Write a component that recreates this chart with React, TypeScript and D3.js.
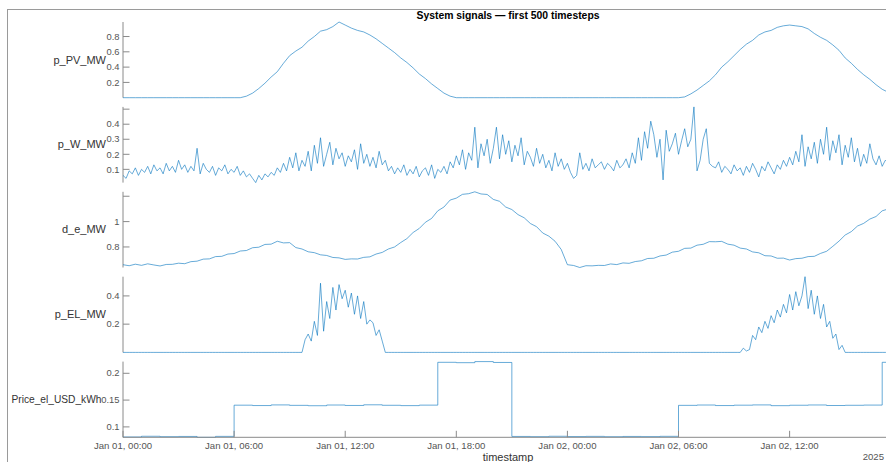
import React, { useRef, useEffect } from "react";
import * as d3 from "d3";

// time axis: 500 steps of 5 min from Jan 01 2025
const startTime = new Date(2025, 0, 1, 0, 0);
const nSteps = 500;
const stepMinutes = 5;

// p_PV_MW, one value every 20 min
const pvMW = [
  0, 0, 0, 0, 0, 0, 0, 0, 0, 0, 0, 0, 0, 0, 0, 0, 0, 0, 0,
  0, 0.02, 0.06, 0.12, 0.19, 0.27, 0.34, 0.45, 0.55, 0.61, 0.66, 0.74, 0.8, 0.87, 0.89, 0.93, 0.99,
  0.95, 0.91, 0.88, 0.86, 0.82, 0.77, 0.71, 0.65, 0.59, 0.52, 0.46, 0.39, 0.31, 0.25, 0.18, 0.12, 0.06, 0.02,
  0, 0, 0, 0, 0, 0, 0, 0, 0, 0, 0, 0, 0, 0, 0, 0, 0, 0, 0,
  0, 0, 0, 0, 0, 0, 0, 0, 0, 0, 0, 0, 0, 0, 0, 0, 0, 0,
  0.01, 0.05, 0.1, 0.16, 0.22, 0.3, 0.4, 0.47, 0.55, 0.63, 0.7, 0.75, 0.82, 0.86, 0.88, 0.92, 0.94,
  0.95, 0.94, 0.93, 0.9, 0.84, 0.79, 0.75, 0.69, 0.62, 0.52, 0.45, 0.37, 0.3, 0.24, 0.17, 0.11, 0.07,
];

// p_W_MW, one value every 10 min (rows = hours)
const windMW = [
  0.06, 0.04, 0.09, 0.07, 0.11, 0.06,
  0.10, 0.08, 0.12, 0.07, 0.13, 0.09,
  0.11, 0.07, 0.14, 0.09, 0.12, 0.08,
  0.16, 0.10, 0.13, 0.08, 0.12, 0.09,
  0.24, 0.07, 0.14, 0.10, 0.08, 0.12,
  0.06, 0.11, 0.09, 0.13, 0.07, 0.10,
  0.08, 0.12, 0.06, 0.09, 0.05, 0.07,
  0.04, 0.012, 0.06, 0.03, 0.07, 0.05,
  0.08, 0.06, 0.11, 0.08, 0.14, 0.09,
  0.18, 0.11, 0.21, 0.09, 0.16, 0.12,
  0.22, 0.09, 0.26, 0.14, 0.31, 0.12,
  0.20, 0.28, 0.13, 0.24, 0.17, 0.21,
  0.12, 0.19, 0.15, 0.23, 0.10, 0.27,
  0.14, 0.20, 0.12, 0.18, 0.11, 0.22,
  0.13, 0.16, 0.09, 0.12, 0.07, 0.11,
  0.08, 0.13, 0.06, 0.10, 0.07, 0.12,
  0.05, 0.09, 0.11, 0.06, 0.13, 0.04,
  0.10, 0.08, 0.12, 0.07, 0.15, 0.11,
  0.19, 0.13, 0.23, 0.10, 0.21, 0.16,
  0.38, 0.11, 0.27, 0.19, 0.30, 0.14,
  0.24, 0.38, 0.17, 0.33, 0.20, 0.29,
  0.15, 0.26, 0.19, 0.31, 0.13, 0.22,
  0.18, 0.12, 0.24, 0.14, 0.20, 0.11,
  0.16, 0.09, 0.21, 0.12, 0.17, 0.10,
  0.14, 0.08, 0.04, 0.06, 0.21, 0.10,
  0.14, 0.09, 0.17, 0.11, 0.13, 0.15,
  0.10, 0.14, 0.12, 0.09, 0.16, 0.11,
  0.13, 0.17, 0.11, 0.21, 0.14, 0.31,
  0.16, 0.35, 0.24, 0.42, 0.33, 0.18,
  0.30, 0.03, 0.36, 0.22, 0.27, 0.34,
  0.20, 0.29, 0.37, 0.25, 0.30, 0.515,
  0.09, 0.16, 0.30, 0.37, 0.14, 0.12,
  0.11, 0.15, 0.08, 0.12, 0.10, 0.07,
  0.13, 0.09, 0.11, 0.06, 0.12, 0.08,
  0.14, 0.10, 0.05, 0.12, 0.09, 0.15,
  0.11, 0.07, 0.13, 0.10, 0.16, 0.12,
  0.18, 0.13, 0.22, 0.15, 0.33, 0.12,
  0.25, 0.17, 0.28, 0.14, 0.30, 0.20,
  0.38, 0.16, 0.29, 0.21, 0.33, 0.13,
  0.26, 0.18, 0.31, 0.15, 0.24, 0.12,
  0.20, 0.14, 0.27, 0.17, 0.13, 0.19,
  0.12, 0.16, 0.14, 0.18,
];

// d_e_MW, one value every 20 min
const demandMW = [
  0.66, 0.652, 0.664, 0.655, 0.667, 0.658, 0.65, 0.662, 0.663, 0.672, 0.668, 0.684, 0.688, 0.704,
  0.706, 0.724, 0.726, 0.744, 0.748, 0.768, 0.772, 0.794, 0.798, 0.82, 0.822, 0.845, 0.832, 0.834,
  0.795, 0.784, 0.762, 0.755, 0.738, 0.733, 0.717, 0.714, 0.702, 0.706, 0.705, 0.718, 0.722, 0.744,
  0.757, 0.784, 0.8, 0.835, 0.866, 0.914, 0.946, 0.995, 1.025, 1.085, 1.115, 1.17, 1.185, 1.215,
  1.22, 1.235, 1.218, 1.214, 1.175, 1.16, 1.115, 1.095, 1.055, 1.03, 0.985, 0.96, 0.91, 0.885,
  0.845, 0.78,
  0.66, 0.654, 0.638, 0.652, 0.651, 0.655, 0.654, 0.666, 0.661, 0.674, 0.671, 0.685, 0.691, 0.709,
  0.711, 0.729, 0.736, 0.759, 0.766, 0.789, 0.791, 0.814, 0.821, 0.842, 0.841, 0.844, 0.822, 0.814,
  0.791, 0.784, 0.761, 0.754, 0.731, 0.729, 0.711, 0.712, 0.697, 0.708, 0.711, 0.724, 0.726, 0.749,
  0.766, 0.805, 0.846, 0.894, 0.921, 0.965, 0.986, 1.02, 1.04, 1.085, 1.10,
];

// p_EL_MW, one value every 10 min
const electrolyserMW = [
  0, 0, 0, 0, 0, 0, 0, 0, 0, 0, 0, 0, 0, 0, 0, 0, 0, 0, 0, 0,
  0, 0, 0, 0, 0, 0, 0, 0, 0, 0, 0, 0, 0, 0, 0, 0, 0, 0, 0, 0,
  0, 0, 0, 0, 0, 0, 0, 0, 0, 0, 0, 0, 0, 0, 0, 0, 0, 0,
  0, 0.09, 0.13, 0.08, 0.22, 0.12, 0.49, 0.15, 0.36, 0.24, 0.46, 0.30, 0.48, 0.38,
  0.44, 0.32, 0.42, 0.27, 0.40, 0.24, 0.36, 0.20, 0.23, 0.21, 0.12, 0.16, 0.08, 0,
  0, 0, 0, 0, 0, 0, 0, 0, 0, 0, 0, 0, 0, 0, 0, 0, 0, 0, 0, 0,
  0, 0, 0, 0, 0, 0, 0, 0, 0, 0, 0, 0, 0, 0, 0, 0, 0, 0, 0, 0,
  0, 0, 0, 0, 0, 0, 0, 0, 0, 0, 0, 0, 0, 0, 0, 0, 0, 0, 0, 0,
  0, 0, 0, 0, 0, 0, 0, 0, 0, 0, 0, 0, 0, 0, 0, 0, 0, 0, 0, 0,
  0, 0, 0, 0, 0, 0, 0, 0, 0, 0, 0, 0, 0, 0, 0, 0, 0, 0, 0, 0,
  0, 0, 0, 0, 0, 0, 0, 0, 0, 0, 0, 0, 0, 0,
  0, 0.03, 0.01, 0.02, 0.12, 0.09, 0.18, 0.14, 0.22, 0.17, 0.26, 0.21, 0.30, 0.25, 0.34, 0.28,
  0.41, 0.30, 0.43, 0.33, 0.40, 0.536, 0.31, 0.44, 0.27, 0.40, 0.24, 0.34, 0.18, 0.22, 0.10,
  0.13, 0.02, 0.05, 0,
  0, 0, 0, 0, 0, 0, 0, 0, 0, 0, 0, 0, 0, 0, 0,
];

// Price_el_USD_kWh, hourly (step)
const priceUSD = [
  0.0812, 0.0825, 0.0818, 0.0822, 0.0806, 0.0823,
  0.1405, 0.1398, 0.141, 0.1402, 0.1395, 0.1408, 0.14, 0.1412, 0.1403, 0.1397, 0.1406,
  0.2205, 0.2198, 0.2218, 0.2202,
  0.0822, 0.0818, 0.0825, 0.082, 0.0823, 0.0817, 0.0822, 0.0819, 0.0824,
  0.1402, 0.1408, 0.1398, 0.1405, 0.141, 0.1396, 0.1404, 0.1409, 0.1399, 0.1403, 0.1407,
  0.2205,
];

const pvTicks = [0.2, 0.4, 0.6, 0.8];
const windTicks = [0.1, 0.2, 0.3, 0.4, 0.5];
const demandTicks = [0.8, 1, 1.2];
const elTicks = [0.2, 0.4];
const priceTicks = [0.1, 0.15, 0.2];
const xTickHours = [0, 6, 12, 18, 24, 30, 36];

const panels = [
  { name: "p_PV_MW", values: pvMW, every: 20, ticks: pvTicks, step: false },
  { name: "p_W_MW", values: windMW, every: 10, ticks: windTicks, step: false },
  { name: "d_e_MW", values: demandMW, every: 20, ticks: demandTicks, step: false },
  { name: "p_EL_MW", values: electrolyserMW, every: 10, ticks: elTicks, step: false },
  { name: "Price_el_USD_kWh", values: priceUSD, every: 60, ticks: priceTicks, step: true },
];

const W = 886;
const H = 462;

const App = () => {
  const ref = useRef<SVGSVGElement>(null);

  useEffect(() => {
    const svg = d3.select(ref.current);
    svg.selectAll("*").remove();

    const font = "'Liberation Sans', Arial, Helvetica, sans-serif";
    const left = 123;
    const right = 893;
    const top0 = 22;
    const panelH = 75.7;
    const gap = 9.2;
    const blue = "#0072BD";
    const axisGrey = "#8a8a8a";

    const endTime = d3.timeMinute.offset(startTime, (nSteps - 1) * stepMinutes);
    const x = d3.scaleTime().domain([startTime, endTime]).range([left, right]);

    // figure frame
    svg.append("rect")
      .attr("x", 7.5).attr("y", 9.5)
      .attr("width", 900).attr("height", 480)
      .attr("fill", "#fff")
      .attr("stroke", "#9a9a9a");

    svg.append("text")
      .attr("x", (left + right) / 2)
      .attr("y", 18.5)
      .attr("text-anchor", "middle")
      .attr("font-family", font)
      .attr("font-weight", "bold")
      .attr("font-size", 10.4)
      .attr("fill", "#000")
      .text("System signals \u2014 first 500 timesteps");

    const fmt = d3.format("~g");

    panels.forEach((p, i) => {
      const y0 = top0 + i * (panelH + gap);
      const y1 = y0 + panelH;
      const pts = p.values.map((v, k) => ({ t: d3.timeMinute.offset(startTime, k * p.every), v }));
      if (p.step) pts.push({ t: endTime, v: p.values[p.values.length - 1] });

      const y = d3.scaleLinear()
        .domain(d3.extent(p.values) as [number, number])
        .range([y1, y0]);

      const g = svg.append("g");

      // y axis line
      g.append("line")
        .attr("x1", left).attr("x2", left)
        .attr("y1", y0).attr("y2", y1)
        .attr("stroke", axisGrey).attr("stroke-width", 1);

      p.ticks.forEach((tv) => {
        const ty = y(tv);
        if (ty < y0 - 0.5 || ty > y1 + 0.5) return;
        g.append("line")
          .attr("x1", left).attr("x2", left + 6.5)
          .attr("y1", ty).attr("y2", ty)
          .attr("stroke", axisGrey);
        if (ty - y0 > 5 && y1 - ty > 5) {
          g.append("text")
            .attr("x", left - 3.5)
            .attr("y", ty)
            .attr("dy", "0.34em")
            .attr("text-anchor", "end")
            .attr("font-family", font)
            .attr("font-size", 9.4)
            .attr("fill", "#555")
            .text(fmt(tv));
        }
      });

      const long = p.name.length > 12;
      g.append("text")
        .attr("x", long ? 101.5 : 106)
        .attr("y", (y0 + y1) / 2)
        .attr("dy", "0.34em")
        .attr("text-anchor", "end")
        .attr("font-family", font)
        .attr("font-size", long ? 10.2 : 11)
        .attr("fill", "#333")
        .text(p.name);

      const line = d3.line<{ t: Date; v: number }>()
        .x((d) => x(d.t))
        .y((d) => y(d.v))
        .curve(p.step ? d3.curveStepAfter : d3.curveLinear);

      g.append("path")
        .datum(pts)
        .attr("d", line)
        .attr("fill", "none")
        .attr("stroke", blue)
        .attr("stroke-width", 0.6)
        .attr("stroke-linejoin", "round");

      if (i === panels.length - 1) {
        // bottom time axis
        g.append("line")
          .attr("x1", left).attr("x2", right)
          .attr("y1", y1).attr("y2", y1)
          .attr("stroke", axisGrey);
        const tf = d3.timeFormat("%b %d, %H:%M");
        xTickHours.forEach((h) => {
          const t = d3.timeHour.offset(startTime, h);
          const tx = x(t);
          g.append("line")
            .attr("x1", tx).attr("x2", tx)
            .attr("y1", y1).attr("y2", y1 - 6.5)
            .attr("stroke", axisGrey);
          g.append("text")
            .attr("x", tx)
            .attr("y", y1 + 11.5)
            .attr("text-anchor", "middle")
            .attr("font-family", font)
            .attr("font-size", 9.6)
            .attr("fill", "#555")
            .text(tf(t));
        });
        g.append("text")
          .attr("x", (left + right) / 2)
          .attr("y", y1 + 23.5)
          .attr("text-anchor", "middle")
          .attr("font-family", font)
          .attr("font-size", 11)
          .attr("fill", "#333")
          .text("timestamp");
        g.append("text")
          .attr("x", 884)
          .attr("y", y1 + 22.5)
          .attr("text-anchor", "end")
          .attr("font-family", font)
          .attr("font-size", 9.6)
          .attr("fill", "#555")
          .text("2025");
      }
    });
  }, []);

  return (
    <div style={{ position: "absolute", left: 0, top: 0 }}>
      <svg ref={ref} width={W} height={H} style={{ display: "block", background: "#fff" }} />
    </div>
  );
};

export default App;
